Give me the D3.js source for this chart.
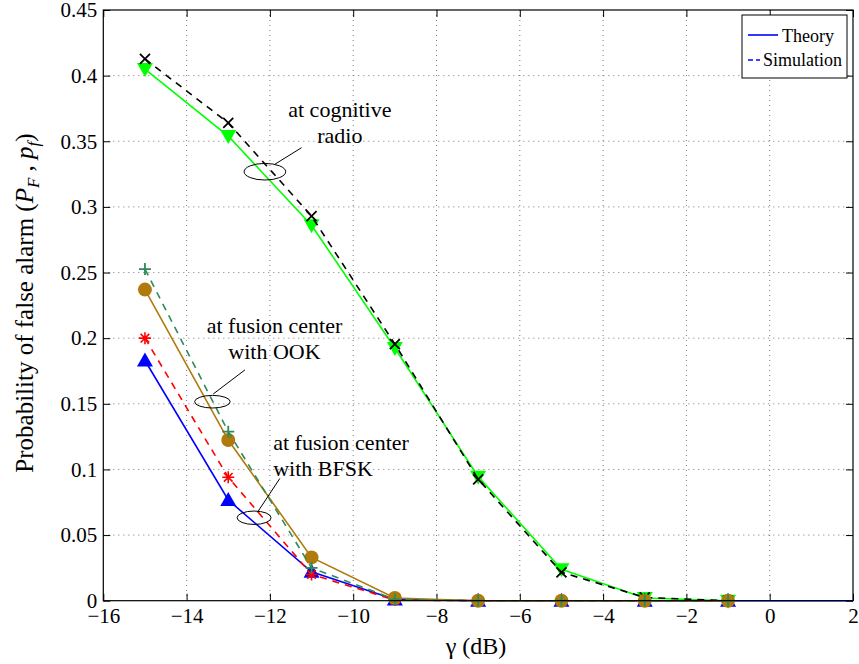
<!DOCTYPE html>
<html>
<head>
<meta charset="utf-8">
<script src="https://cdn.jsdelivr.net/npm/d3@7"></script>
<style>
  body { margin: 0; background: #fff; }
</style>
</head>
<body>
<script>
// gamma in dB where the curves were evaluated
const gammaDb = [-15, -13, -11, -9, -7, -5, -3, -1]

// cognitive radio
const crTheory = [0.405, 0.354, 0.286, 0.1925, 0.0945, 0.024, 0.002, 0]
const crSim    = [0.4127, 0.364, 0.293, 0.1955, 0.0925, 0.0216, 0.0025, 0]
// fusion center, BFSK
const bfskTheory = [0.183, 0.0767, 0.022, 0.001, 0, 0, 0, 0]
const bfskSim    = [0.200, 0.094, 0.020, 0.0005, 0, 0, 0, 0]
// fusion center, OOK
const ookTheory = [0.237, 0.1224, 0.033, 0.002, 0, 0, 0, 0]
const ookSim    = [0.2526, 0.1288, 0.025, 0.001, 0, 0, 0, 0]

const xTicks = [-16, -14, -12, -10, -8, -6, -4, -2, 0, 2]
const yTicks = [0, 0.05, 0.1, 0.15, 0.2, 0.25, 0.3, 0.35, 0.4, 0.45]

const W = 859, H = 664
const pl = 103.3, pr = 853, pt = 10, pb = 600.7
const FONT = '"Liberation Serif", "Times New Roman", serif'

const svg = d3.select('body').append('svg')
    .attr('width', W)
    .attr('height', H)
    .attr('font-family', FONT)

const x = d3.scaleLinear().domain([-16, 2]).range([pl, pr])
const y = d3.scaleLinear().domain([0, 0.45]).range([pb, pt])

// grid
svg.append('g').selectAll('line')
    .data(xTicks.slice(1, -1))
    .enter().append('line')
    .attr('x1', d => x(d)).attr('x2', d => x(d))
    .attr('y1', pt).attr('y2', pb)
    .attr('stroke', '#555').attr('stroke-width', 0.8)
    .attr('stroke-dasharray', '1,4')
svg.append('g').selectAll('line')
    .data(yTicks.slice(1, -1))
    .enter().append('line')
    .attr('y1', d => y(d)).attr('y2', d => y(d))
    .attr('x1', pl).attr('x2', pr)
    .attr('stroke', '#555').attr('stroke-width', 0.8)
    .attr('stroke-dasharray', '1,4')

// axes (ticks inside, like matlab)
const tickLen = 7
svg.append('g')
    .attr('transform', `translate(0,${pb})`)
    .call(d3.axisBottom(x).tickValues(xTicks).tickSizeInner(-tickLen).tickSizeOuter(0).tickPadding(7)
        .tickFormat(d => d < 0 ? '\u2212' + Math.abs(d) : d))
svg.append('g')
    .attr('transform', `translate(0,${pt})`)
    .call(d3.axisTop(x).tickValues(xTicks).tickSizeInner(-tickLen).tickSizeOuter(0).tickFormat(''))
svg.append('g')
    .attr('transform', `translate(${pl},0)`)
    .call(d3.axisLeft(y).tickValues(yTicks).tickSizeInner(-tickLen).tickSizeOuter(0).tickPadding(6)
        .tickFormat(d => d === 0 ? '0' : String(d)))
svg.append('g')
    .attr('transform', `translate(${pr},0)`)
    .call(d3.axisRight(y).tickValues(yTicks).tickSizeInner(-tickLen).tickSizeOuter(0).tickFormat(''))

svg.selectAll('.domain').remove()
svg.selectAll('.tick line').attr('stroke', '#000')
svg.selectAll('g').attr('font-family', FONT)
svg.selectAll('.tick text')
    .attr('font-size', 21)
    .attr('fill', '#000')

const line = d3.line().x(d => x(d[0])).y(d => y(d[1]))
const pts = vals => gammaDb.map((g, i) => [g, vals[i]])

function drawSeries(vals, color, dash, marker, extend) {
    let p = pts(vals)
    if (extend) p = p.concat([[1, 0], [2, 0]])
    svg.append('path')
        .attr('d', line(p))
        .attr('fill', 'none')
        .attr('stroke', color)
        .attr('stroke-width', 1.6)
        .attr('stroke-dasharray', dash)
    const g = svg.append('g')
    pts(vals).forEach(d => {
        const cx = x(d[0]), cy = y(d[1])
        const m = g.append('g').attr('transform', `translate(${cx},${cy})`)
        if (marker === 'tridown') {
            m.append('path').attr('d', 'M-8,-6L8,-6L0,8Z').attr('fill', color)
        } else if (marker === 'triup') {
            m.append('path').attr('d', 'M-8,6L8,6L0,-8Z').attr('fill', color)
        } else if (marker === 'circle') {
            m.append('circle').attr('r', 7).attr('fill', color)
        } else if (marker === 'x') {
            m.append('path').attr('d', 'M-5,-5L5,5M-5,5L5,-5').attr('stroke', color).attr('stroke-width', 1.8)
        } else if (marker === 'plus') {
            m.append('path').attr('d', 'M-6,0L6,0M0,-6L0,6').attr('stroke', color).attr('stroke-width', 1.8)
        } else if (marker === 'star') {
            m.append('path').attr('d', 'M-6,0L6,0M0,-6L0,6M-4.3,-4.3L4.3,4.3M-4.3,4.3L4.3,-4.3')
                .attr('stroke', color).attr('stroke-width', 1.6)
        }
    })
}

drawSeries(crTheory, '#00ff00', null, 'tridown', false)
drawSeries(crSim, '#000000', '7,6', 'x', false)
drawSeries(bfskTheory, '#0000ff', null, 'triup', true)
drawSeries(bfskSim, '#ff0000', '7,6', 'star', false)
drawSeries(ookTheory, '#b07a0c', null, 'circle', false)
drawSeries(ookSim, '#2e8b57', '7,6', 'plus', false)

// frame
svg.append('rect')
    .attr('x', pl).attr('y', pt)
    .attr('width', pr - pl).attr('height', pb - pt)
    .attr('fill', 'none').attr('stroke', '#000').attr('stroke-width', 1.2)

// annotations: ellipse center, leader line, text lines
const notes = [
    { cx: -12.12, cy: 0.3268, rx: 20.8, ry: 8.3, l: [[-11.88, 0.3325], [-11.24, 0.3451]],
      tx: -10.32, anchor: 'middle', lines: [['at cognitive', 0.3685], ['radio', 0.349]] },
    { cx: -13.38, cy: 0.1516, rx: 17.8, ry: 6.3, l: [[-13.36, 0.1575], [-12.6, 0.1758]],
      tx: -11.89, anchor: 'middle', lines: [['at fusion center', 0.204], ['with OOK', 0.1843]] },
    { cx: -12.38, cy: 0.0632, rx: 17, ry: 6.7, l: [[-12.30, 0.0673], [-11.76, 0.0932]],
      tx: -11.92, anchor: 'start', lines: [['at fusion center', 0.115], ['with BFSK', 0.0953]] }
]
notes.forEach(n => {
    svg.append('ellipse')
        .attr('cx', x(n.cx)).attr('cy', y(n.cy))
        .attr('rx', n.rx).attr('ry', n.ry)
        .attr('fill', 'none').attr('stroke', '#000').attr('stroke-width', 1)
    svg.append('line')
        .attr('x1', x(n.l[0][0])).attr('y1', y(n.l[0][1]))
        .attr('x2', x(n.l[1][0])).attr('y2', y(n.l[1][1]))
        .attr('stroke', '#000').attr('stroke-width', 1)
    n.lines.forEach(t => {
        svg.append('text')
            .attr('x', x(n.tx)).attr('y', y(t[1]))
            .attr('text-anchor', n.anchor)
            .attr('font-size', 22)
            .text(t[0])
    })
})

// legend
const leg = svg.append('g')
leg.append('rect')
    .attr('x', 742).attr('y', 15).attr('width', 105).attr('height', 63)
    .attr('fill', '#fff').attr('stroke', '#000').attr('stroke-width', 1)
leg.append('line').attr('x1', 748).attr('x2', 778).attr('y1', 35).attr('y2', 35)
    .attr('stroke', '#0000ff').attr('stroke-width', 1.6)
leg.append('line').attr('x1', 748).attr('x2', 760).attr('y1', 60).attr('y2', 60)
    .attr('stroke', '#0000ff').attr('stroke-width', 1.6).attr('stroke-dasharray', '5,3')
leg.append('text').attr('x', 782).attr('y', 42).attr('font-size', 18).text('Theory')
leg.append('text').attr('x', 763).attr('y', 66).attr('font-size', 18).text('Simulation')

// axis labels
svg.append('text')
    .attr('x', 476).attr('y', 654)
    .attr('text-anchor', 'middle')
    .attr('font-size', 24)
    .text('\u03b3 (dB)')

const yl = svg.append('text')
    .attr('transform', 'translate(33,303) rotate(-90)')
    .attr('text-anchor', 'middle')
    .attr('font-size', 25)
yl.append('tspan').text('Probability of false alarm (')
yl.append('tspan').attr('font-style', 'italic').text('P')
yl.append('tspan').attr('font-size', 17).attr('font-style', 'italic').attr('dy', 6).text('F')
yl.append('tspan').attr('dy', -6).text(' , ')
yl.append('tspan').attr('font-style', 'italic').text('p')
yl.append('tspan').attr('font-size', 17).attr('font-style', 'italic').attr('dy', 6).text('f')
yl.append('tspan').attr('dy', -6).text(')')
</script>
</body>
</html>
